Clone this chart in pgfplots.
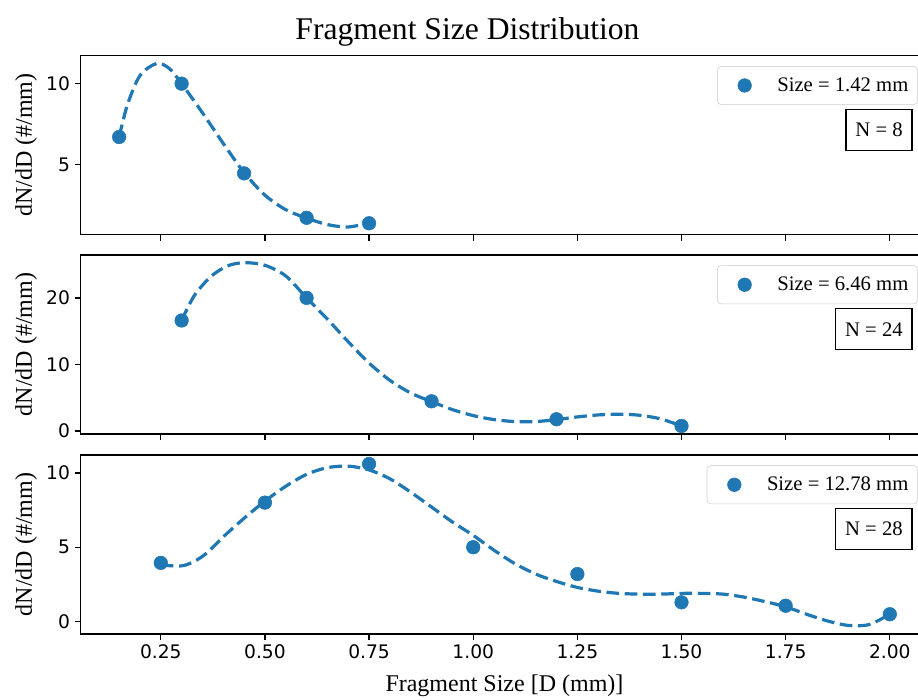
\documentclass[border=0pt]{standalone}
\usepackage{pgfplots}
\pgfplotsset{compat=1.18}
\usepackage{fontspec}
\setmainfont{Liberation Serif}
\newfontfamily\dejavu{DejaVu Sans}
\definecolor{c0}{HTML}{1F77B4}

\tikzset{
  nbox/.style={draw=black, line width=1pt, fill=white, font=\fontsize{15.5}{18}\selectfont, anchor=north east, inner xsep=7pt, minimum height=30.8pt},
}
\pgfplotsset{
  panel/.style={
    anchor=north west,
    scale only axis,
    width=635.8pt, height=134.25pt,
    xmin=0.0575, xmax=2.0925,
    xtick={0.25,0.5,0.75,1.0,1.25,1.5,1.75,2.0},
    xtick pos=left, ytick pos=left,
    tick align=outside,
    major tick length=4.5pt,
    axis line style={line width=1pt, black},
    every tick/.style={line width=1pt, black},
    ticklabel style={font=\dejavu\fontsize{14}{16}\selectfont},
    /pgf/number format/assume math mode=true,
    ylabel={dN/dD (\#/mm)},
    ylabel style={font=\fontsize{18}{20}\selectfont, at={(axis description cs:-0.0644,0.5)}, anchor=center, rotate=0},
    legend style={font=\fontsize{15.5}{18}\selectfont, draw=black!20, rounded corners=3pt, anchor=north east, inner xsep=5pt, inner ysep=6.5pt},
    legend image code/.code={\path[draw=none,fill=none] (0pt,0pt) -- (38pt,0pt); \draw[#1] plot[only marks] coordinates {(15.5pt,0pt)};},
    clip=false,
  },
  curve/.style={c0, line width=2.4pt, dash pattern=on 9.5pt off 4.2pt, smooth, tension=0.5, forget plot},
  pts/.style={only marks, mark=*, mark size=5.1pt, mark options={draw=c0, fill=c0, solid}},
}

\begin{document}
\begin{tikzpicture}
\path[use as bounding box] (0,0) rectangle (688.5pt,-525pt);
\node[font=\fontsize{23.7}{26}\selectfont, anchor=base] at (350.6pt,-29.25pt) {Fragment Size Distribution};

% top panel
\begin{axis}[panel, at={(60.45pt,-41.8pt)},
  ymin=0.65, ymax=11.73, ytick={5,10}, xticklabels={},
  legend style={at={(rel axis cs:0.9878,0.9425)}}]
\addplot[curve] coordinates {
(0.15,6.7) (0.17,8.7) (0.20,10.5) (0.24,11.25) (0.27,10.95) (0.30,10.0)
(0.35,8.2) (0.40,6.3) (0.45,4.5) (0.50,3.1) (0.55,2.2) (0.60,1.68)
(0.65,1.28) (0.70,1.13) (0.75,1.38)};
\addplot[pts] coordinates {(0.15,6.7) (0.30,10.0) (0.45,4.45) (0.60,1.7) (0.75,1.36)};
\addlegendentry{Size = 1.42 mm}
\node[nbox] at (rel axis cs:0.9816,0.704) {N = 8};
\end{axis}

% middle panel
\begin{axis}[panel, at={(60.45pt,-191.25pt)},
  ymin=-0.47, ymax=26.45, ytick={0,10,20}, xticklabels={},
  legend style={at={(rel axis cs:0.9878,0.9425)}}]
\addplot[curve] coordinates {
(0.30,16.6) (0.33,20.3) (0.37,23.2) (0.41,24.8) (0.45,25.3) (0.50,24.9)
(0.55,23.3) (0.60,20.0) (0.65,16.8) (0.70,13.4) (0.75,10.2) (0.80,7.6)
(0.85,5.7) (0.90,4.4) (0.95,3.2) (1.00,2.3) (1.05,1.7) (1.10,1.4)
(1.15,1.4) (1.20,1.7) (1.25,2.1) (1.30,2.4) (1.35,2.5) (1.40,2.35)
(1.45,1.8) (1.50,0.74)};
\addplot[pts] coordinates {(0.3,16.6) (0.6,20.0) (0.9,4.45) (1.2,1.75) (1.5,0.74)};
\addlegendentry{Size = 6.46 mm}
\node[nbox] at (rel axis cs:0.9816,0.704) {N = 24};
\end{axis}

% bottom panel
\begin{axis}[panel, at={(60.45pt,-341.25pt)},
  ymin=-0.83, ymax=11.2, ytick={0,5,10},
  xticklabels={0.25,0.50,0.75,1.00,1.25,1.50,1.75,2.00},
  xlabel={Fragment Size [D (mm)]},
  xlabel style={font=\fontsize{18}{20}\selectfont, at={(axis description cs:0.5,0)}, anchor=base, yshift=-42.75pt},
  legend style={at={(rel axis cs:0.9878,0.9425)}}]
\addplot[curve] coordinates {
(0.25,3.8) (0.30,3.75) (0.33,4.05) (0.36,4.6) (0.40,5.7) (0.45,6.95)
(0.50,8.1) (0.55,9.1) (0.60,9.9) (0.65,10.35) (0.70,10.45) (0.75,10.2)
(0.80,9.6) (0.85,8.7) (0.90,7.7) (0.95,6.7) (1.00,5.8) (1.05,4.8)
(1.10,3.9) (1.15,3.2) (1.20,2.7) (1.25,2.3) (1.30,2.05) (1.35,1.9)
(1.40,1.85) (1.45,1.85) (1.50,1.9) (1.55,1.9) (1.60,1.85) (1.65,1.65)
(1.70,1.35) (1.75,1.0) (1.80,0.5) (1.85,0.05) (1.90,-0.25) (1.95,-0.2)
(2.00,0.5)};
\addplot[pts] coordinates {(0.25,3.95) (0.5,8.0) (0.75,10.6) (1.0,5.0) (1.25,3.2) (1.5,1.3) (1.75,1.07) (2.0,0.5)};
\addlegendentry{Size = 12.78 mm}
\node[nbox] at (rel axis cs:0.9816,0.704) {N = 28};
\end{axis}
\end{tikzpicture}
\end{document}
